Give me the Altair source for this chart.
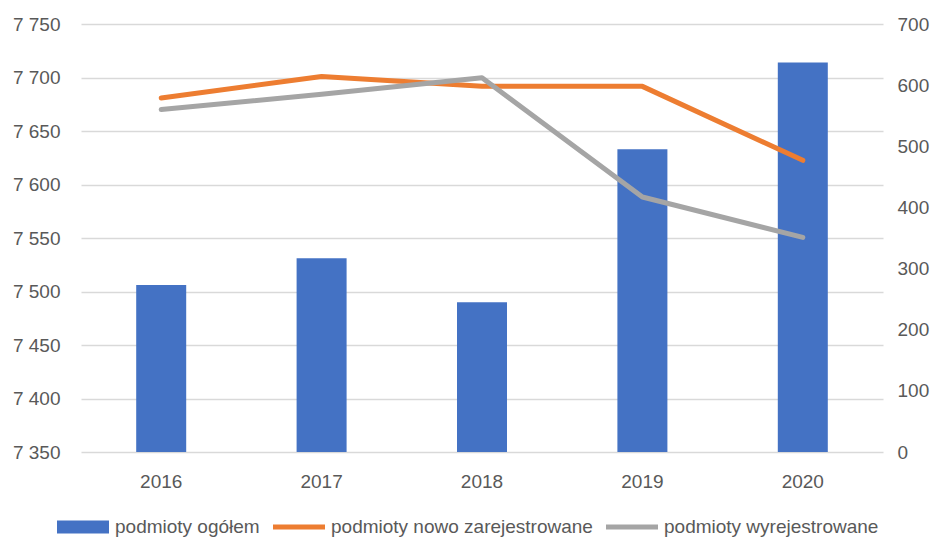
import altair as alt
import pandas as pd

years = ["2016", "2017", "2018", "2019", "2020"]
total = [7506, 7531, 7490, 7633, 7714]          # podmioty ogółem (left axis)
new_reg = [579, 614, 598, 598, 477]              # podmioty nowo zarejestrowane (right axis)
dereg = [560, 585, 612, 417, 351]                # podmioty wyrejestrowane (right axis)

series = ["podmioty ogółem", "podmioty nowo zarejestrowane", "podmioty wyrejestrowane"]
colors = ["#4472C4", "#ED7D31", "#A5A5A5"]
left_ticks = [7350, 7400, 7450, 7500, 7550, 7600, 7650, 7700, 7750]
right_ticks = [0, 100, 200, 300, 400, 500, 600, 700]

FONT = "Liberation Sans"
TXT = "#595959"

bar_df = pd.DataFrame({"year": years, "value": total})
line_df = pd.DataFrame({
    "year": years * 2,
    "value": new_reg + dereg,
    "series": [series[1]] * len(years) + [series[2]] * len(years),
})
leg_df = pd.DataFrame({"series": series})

x_enc = alt.X("year:N", title=None, sort=years,
              scale=alt.Scale(paddingInner=0, paddingOuter=0),
              axis=alt.Axis(labelAngle=0, labelPadding=20, domain=False, ticks=False,
                            labelFontSize=19, labelColor=TXT, labelFont=FONT))

bars = alt.Chart(bar_df).mark_bar(size=50, color=colors[0], clip=True).encode(
    x=x_enc,
    y=alt.Y("value:Q", title=None,
            scale=alt.Scale(domain=[7350, 7750], zero=False, nice=False),
            axis=alt.Axis(values=left_ticks, domain=False, ticks=False,
                          labelExpr="replace(format(datum.value, ','), ',', ' ')",
                          labelFontSize=19, labelColor=TXT, labelFont=FONT,
                          labelPadding=21, minExtent=73, maxExtent=73,
                          grid=True, gridColor="#D9D9D9", gridWidth=1.3)),
)

lines = alt.Chart(line_df).mark_line(strokeWidth=5, strokeCap="round", strokeJoin="round").encode(
    x=alt.X("year:N", sort=years),
    y=alt.Y("value:Q", title=None,
            scale=alt.Scale(domain=[0, 700], nice=False),
            axis=alt.Axis(orient="right", values=right_ticks, domain=False, ticks=False,
                          grid=False, labelFontSize=19, labelColor=TXT, labelFont=FONT,
                          labelPadding=14)),
    stroke=alt.Stroke("series:N", scale=alt.Scale(domain=series[1:], range=colors[1:]), legend=None),
    detail="series:N",
)

rect_path = "M-1,-0.25H1V0.25H-1Z"
line_path = "M-1,-0.1H1V0.1H-1Z"

legend_layer = alt.Chart(leg_df).transform_filter("false").mark_point(
    filled=True, opacity=1, size=2704
).encode(
    color=alt.Color("series:N", sort=series,
                    scale=alt.Scale(domain=series, range=colors),
                    legend=alt.Legend(title=None, orient="none", direction="horizontal",
                                      legendX=-24, legendY=477,
                                      symbolOpacity=1, symbolSize=2704, symbolStrokeWidth=0,
                                      labelFontSize=19, labelColor=TXT, labelFont=FONT,
                                      labelOffset=6, columnPadding=13, labelLimit=400)),
    shape=alt.Shape("series:N", sort=series,
                    scale=alt.Scale(domain=series, range=[rect_path, line_path, line_path])),
)

chart = alt.layer(bars, lines, legend_layer).resolve_scale(
    y="independent"
).properties(
    width=802, height=428,
    autosize=alt.AutoSizeParams(type="none"),
    padding={"left": 73, "top": 16, "right": 47, "bottom": 85},
).configure_view(stroke=None)

chart.save("out.html", embed_options={"renderer": "svg", "actions": False})
